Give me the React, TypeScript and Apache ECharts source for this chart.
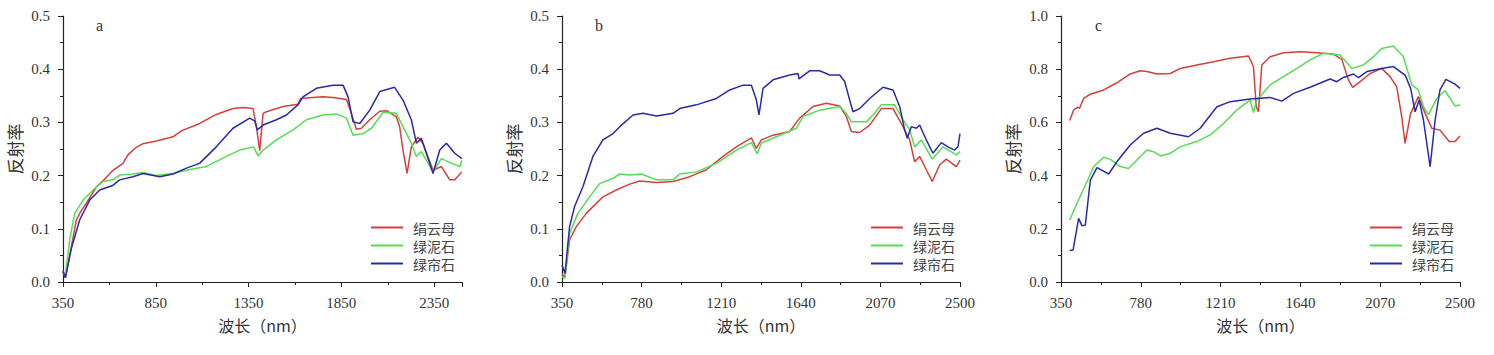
import React, { useEffect, useRef } from "react";
import * as echarts from "echarts";

// ---------- labels ----------
const NAMES = ["绢云母", "绿泥石", "绿帘石"];
const COLORS = ["#d2413c", "#55dd55", "#2b2ba6"];
const PANEL_LETTERS = ["a", "b", "c"];
const X_LABEL = "波长（nm）";
const Y_LABEL = "反射率";
const X_MIN = 350;
const X_MAX = 2500;
const X_STEP = [500, 430, 430];
const Y_MAX = [0.5, 0.5, 1.0];
const Y_STEP = [0.1, 0.1, 0.2];

// ---------- panel a ----------
const aSericite: [number, number][] = [
  [350, 0.02], [362, 0.008], [375, 0.03], [395, 0.066], [422, 0.117], [450, 0.135], [476, 0.148],
  [530, 0.179], [565, 0.19], [619, 0.21], [673, 0.223], [700, 0.239], [740, 0.252], [781, 0.26],
  [853, 0.265], [943, 0.273], [988, 0.284], [1086, 0.298], [1176, 0.315], [1266, 0.326], [1320, 0.328],
  [1374, 0.326], [1392, 0.292], [1410, 0.247], [1428, 0.317], [1446, 0.32], [1536, 0.33], [1616, 0.334],
  [1630, 0.345], [1661, 0.346], [1751, 0.348], [1805, 0.347], [1877, 0.343], [1904, 0.317], [1931, 0.287],
  [1958, 0.289], [2003, 0.305], [2057, 0.321], [2093, 0.322], [2146, 0.311], [2164, 0.292], [2182, 0.248],
  [2204, 0.204], [2227, 0.254], [2263, 0.272], [2290, 0.26], [2344, 0.21], [2389, 0.217], [2434, 0.192],
  [2461, 0.192], [2499, 0.207],
];
const aChlorite: [number, number][] = [
  [350, 0.02], [362, 0.01], [386, 0.079], [413, 0.129], [458, 0.154], [512, 0.173], [566, 0.189],
  [620, 0.192], [655, 0.201], [727, 0.203], [781, 0.206], [853, 0.2], [943, 0.204], [1015, 0.21],
  [1122, 0.217], [1230, 0.236], [1302, 0.248], [1377, 0.254], [1401, 0.237], [1428, 0.248], [1500, 0.267],
  [1590, 0.286], [1661, 0.305], [1751, 0.314], [1823, 0.316], [1877, 0.308], [1913, 0.276], [1967, 0.279],
  [2012, 0.289], [2075, 0.319], [2146, 0.317], [2182, 0.292], [2227, 0.261], [2254, 0.236], [2281, 0.245],
  [2344, 0.207], [2389, 0.232], [2452, 0.222], [2488, 0.217], [2499, 0.229],
];
const aEpidote: [number, number][] = [
  [350, 0.02], [363, 0.008], [395, 0.063], [440, 0.117], [494, 0.154], [548, 0.173], [620, 0.182],
  [655, 0.192], [727, 0.198], [781, 0.204], [871, 0.198], [943, 0.203], [1015, 0.214], [1086, 0.223],
  [1176, 0.254], [1266, 0.289], [1356, 0.308], [1383, 0.303], [1397, 0.286], [1428, 0.295], [1500, 0.305],
  [1554, 0.314], [1616, 0.333], [1643, 0.348], [1715, 0.364], [1805, 0.37], [1859, 0.37], [1886, 0.348],
  [1913, 0.301], [1949, 0.298], [2003, 0.323], [2057, 0.358], [2137, 0.366], [2182, 0.342], [2227, 0.305],
  [2254, 0.261], [2281, 0.27], [2344, 0.204], [2380, 0.248], [2416, 0.261], [2461, 0.242], [2499, 0.232],
];

// ---------- panel b ----------
const bSericite: [number, number][] = [
  [350, 0.015], [366, 0.009], [391, 0.079], [427, 0.104], [481, 0.129], [571, 0.16], [643, 0.173],
  [716, 0.184], [770, 0.19], [860, 0.187], [950, 0.189], [1040, 0.198], [1130, 0.211], [1220, 0.236],
  [1292, 0.254], [1373, 0.271], [1400, 0.251], [1427, 0.267], [1490, 0.276], [1580, 0.283], [1634, 0.308],
  [1706, 0.33], [1778, 0.336], [1850, 0.331], [1886, 0.311], [1913, 0.283], [1958, 0.281], [2012, 0.295],
  [2075, 0.326], [2138, 0.326], [2183, 0.298], [2228, 0.267], [2255, 0.226], [2282, 0.236], [2318, 0.211],
  [2350, 0.189], [2390, 0.22], [2426, 0.231], [2480, 0.217], [2500, 0.229],
];
const bChlorite: [number, number][] = [
  [350, 0.01], [366, 0.007], [391, 0.091], [436, 0.129], [499, 0.16], [553, 0.185], [626, 0.195],
  [662, 0.203], [716, 0.201], [779, 0.203], [860, 0.192], [950, 0.192], [986, 0.203], [1076, 0.207],
  [1184, 0.223], [1292, 0.248], [1373, 0.262], [1405, 0.241], [1427, 0.261], [1508, 0.273], [1616, 0.289],
  [1652, 0.311], [1742, 0.323], [1850, 0.33], [1886, 0.317], [1913, 0.301], [1994, 0.301], [2030, 0.314],
  [2075, 0.333], [2147, 0.333], [2192, 0.305], [2228, 0.286], [2255, 0.254], [2291, 0.267], [2350, 0.231],
  [2408, 0.254], [2480, 0.239], [2500, 0.245],
];
const bEpidote: [number, number][] = [
  [350, 0.032], [366, 0.016], [391, 0.104], [418, 0.142], [463, 0.179], [517, 0.236], [571, 0.267],
  [626, 0.279], [662, 0.292], [734, 0.314], [788, 0.317], [860, 0.312], [950, 0.317], [986, 0.326],
  [1076, 0.333], [1184, 0.345], [1256, 0.361], [1328, 0.37], [1373, 0.37], [1400, 0.342], [1414, 0.314],
  [1436, 0.364], [1490, 0.38], [1580, 0.389], [1625, 0.392], [1630, 0.382], [1688, 0.397], [1742, 0.397],
  [1796, 0.389], [1850, 0.389], [1877, 0.377], [1904, 0.342], [1922, 0.32], [1958, 0.326], [2012, 0.345],
  [2084, 0.366], [2138, 0.361], [2174, 0.33], [2201, 0.286], [2215, 0.27], [2237, 0.292], [2264, 0.289],
  [2282, 0.295], [2318, 0.267], [2354, 0.242], [2399, 0.262], [2435, 0.254], [2471, 0.248], [2489, 0.254],
  [2500, 0.279],
];

// ---------- panel c ----------
const cSericite: [number, number][] = [
  [397, 0.607], [418, 0.647], [440, 0.657], [450, 0.653], [472, 0.69], [508, 0.706], [580, 0.722],
  [651, 0.749], [723, 0.782], [777, 0.794], [813, 0.791], [867, 0.782], [939, 0.784], [993, 0.803],
  [1082, 0.816], [1172, 0.828], [1262, 0.841], [1360, 0.85], [1387, 0.81], [1402, 0.659], [1414, 0.64],
  [1432, 0.816], [1477, 0.847], [1549, 0.862], [1639, 0.866], [1728, 0.862], [1818, 0.857], [1863, 0.837],
  [1899, 0.759], [1922, 0.732], [1962, 0.753], [2016, 0.784], [2078, 0.803], [2123, 0.772], [2159, 0.734],
  [2186, 0.622], [2204, 0.521], [2234, 0.634], [2276, 0.697], [2312, 0.634], [2348, 0.578], [2392, 0.571],
  [2442, 0.528], [2473, 0.528], [2500, 0.549],
];
const cChlorite: [number, number][] = [
  [397, 0.233], [436, 0.296], [490, 0.377], [526, 0.434], [580, 0.469], [616, 0.461], [669, 0.434],
  [714, 0.427], [759, 0.459], [813, 0.496], [849, 0.49], [885, 0.474], [939, 0.484], [993, 0.509],
  [1082, 0.528], [1154, 0.553], [1226, 0.596], [1298, 0.647], [1369, 0.684], [1387, 0.637], [1405, 0.684],
  [1477, 0.741], [1549, 0.772], [1621, 0.803], [1692, 0.835], [1764, 0.86], [1854, 0.853], [1917, 0.803],
  [1980, 0.816], [2034, 0.847], [2078, 0.878], [2141, 0.887], [2195, 0.847], [2240, 0.741], [2276, 0.722],
  [2303, 0.659], [2330, 0.628], [2375, 0.69], [2419, 0.719], [2473, 0.662], [2500, 0.665],
];
const cEpidote: [number, number][] = [
  [397, 0.118], [415, 0.12], [445, 0.239], [463, 0.211], [481, 0.214], [508, 0.383], [544, 0.43],
  [607, 0.406], [651, 0.452], [723, 0.515], [795, 0.559], [867, 0.578], [939, 0.559], [1037, 0.546],
  [1100, 0.578], [1190, 0.659], [1262, 0.678], [1369, 0.688], [1477, 0.694], [1540, 0.68], [1603, 0.709],
  [1692, 0.732], [1800, 0.763], [1836, 0.753], [1872, 0.769], [1926, 0.782], [1953, 0.768], [1998, 0.791],
  [2078, 0.803], [2141, 0.81], [2204, 0.778], [2234, 0.728], [2258, 0.64], [2280, 0.684], [2303, 0.609],
  [2339, 0.434], [2366, 0.609], [2392, 0.722], [2424, 0.762], [2473, 0.744], [2500, 0.728],
];

const PANELS = [
  [aSericite, aChlorite, aEpidote],
  [bSericite, bChlorite, bEpidote],
  [cSericite, cChlorite, cEpidote],
];

// ---------- layout ----------
const GRID_LEFT = [63, 562, 1061];
const GRID_WIDTH = [399, 398, 399];
const LEGEND_LEFT = [371, 871, 1370];
const LETTER_LEFT = [96, 595, 1095];

const SERIF = '"Liberation Serif", "DejaVu Serif", serif';
const CJK = '"Noto Sans CJK SC", sans-serif';
const AXIS_COLOR = "#222";
const TEXT_COLOR = "#333";

export default function App() {
  const ref = useRef<HTMLDivElement>(null);

  useEffect(() => {
    if (!ref.current) return;
    const chart = echarts.init(ref.current, null, { renderer: "svg" });

    const grids = PANELS.map((_, i) => ({
      left: GRID_LEFT[i],
      width: GRID_WIDTH[i],
      top: 16,
      bottom: 73,
      containLabel: false,
    }));

    const xAxes = PANELS.map((_, i) => ({
      gridIndex: i,
      type: "value",
      min: 0,
      max: X_MAX - X_MIN,
      interval: X_STEP[i],
      axisLine: { show: true, lineStyle: { color: AXIS_COLOR, width: 1.2 } },
      axisTick: { show: true, inside: false, length: 5, lineStyle: { color: AXIS_COLOR } },
      minorTick: { show: true, splitNumber: 2, length: 3, lineStyle: { color: AXIS_COLOR } },
      splitLine: { show: false },
      axisLabel: {
        formatter: (v: number) => String(Math.round(v + X_MIN)),
        fontFamily: SERIF,
        fontSize: 15,
        color: TEXT_COLOR,
        margin: 13,
        showMaxLabel: i !== 0,
      },
      name: X_LABEL,
      nameLocation: "middle",
      nameGap: 35,
      nameTextStyle: { fontFamily: CJK, fontSize: 16, color: TEXT_COLOR },
    }));

    const yAxes = PANELS.map((_, i) => ({
      gridIndex: i,
      type: "value",
      min: 0,
      max: Y_MAX[i],
      interval: Y_STEP[i],
      axisLine: { show: true, lineStyle: { color: AXIS_COLOR, width: 1.2 } },
      axisTick: { show: true, inside: false, length: 5, lineStyle: { color: AXIS_COLOR } },
      minorTick: { show: true, splitNumber: 2, length: 3, lineStyle: { color: AXIS_COLOR } },
      splitLine: { show: false },
      axisLabel: {
        formatter: (v: number) => v.toFixed(1),
        fontFamily: SERIF,
        fontSize: 15,
        color: TEXT_COLOR,
        margin: 13,
      },
      name: Y_LABEL,
      nameLocation: "middle",
      nameGap: 40,
      nameRotate: 90,
      nameTextStyle: { fontFamily: CJK, fontSize: 17, color: TEXT_COLOR },
    }));

    const series: any[] = [];
    PANELS.forEach((curves, i) => {
      curves.forEach((curve, k) => {
        series.push({
          type: "line",
          name: NAMES[k],
          xAxisIndex: i,
          yAxisIndex: i,
          data: curve.map(([nm, v]) => [nm - X_MIN, v]),
          showSymbol: false,
          symbol: "none",
          smooth: false,
          color: COLORS[k],
          lineStyle: { color: COLORS[k], width: 1.5 },
          z: k === 2 ? 3 : 2,
        });
      });
    });

    const legends = PANELS.map((_, i) => ({
      orient: "vertical",
      left: LEGEND_LEFT[i],
      top: 219,
      padding: 0,
      icon: "rect",
      itemWidth: 32,
      itemHeight: 2,
      itemGap: 1,
      data: NAMES,
      textStyle: {
        fontFamily: CJK,
        fontSize: 14,
        lineHeight: 17,
        color: "#444",
        padding: [0, 0, 0, 5],
      },
    }));

    const letters = PANELS.map((_, i) => ({
      type: "text",
      left: LETTER_LEFT[i],
      top: 17,
      style: { text: PANEL_LETTERS[i], font: `16px ${SERIF}`, fill: TEXT_COLOR },
    }));

    chart.setOption({
      animation: false,
      backgroundColor: "#ffffff",
      grid: grids,
      xAxis: xAxes,
      yAxis: yAxes,
      legend: legends,
      series,
      graphic: letters,
    });

    return () => chart.dispose();
  }, []);

  return (
    <div
      ref={ref}
      style={{ position: "absolute", left: 0, top: 0, width: 1494, height: 355, background: "#fff" }}
    />
  );
}
